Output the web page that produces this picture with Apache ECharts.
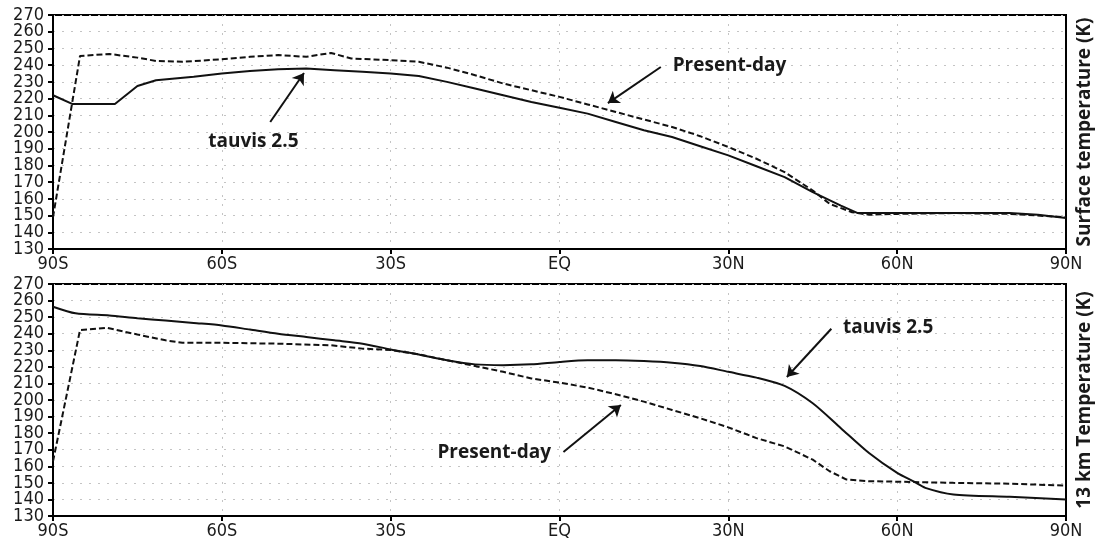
<!DOCTYPE html>
<html>
<head>
<meta charset="utf-8">
<script src="https://cdn.jsdelivr.net/npm/echarts@6/dist/echarts.min.js"></script>
<style>
html,body{margin:0;padding:0;background:#fff;}
#chart{width:1102px;height:545px;}
</style>
</head>
<body>
<div id="chart"></div>
<script>
// ---- data ----
const latTicks = [-90, -60, -30, 0, 30, 60, 90];
const latTickLabels = ['90S', '60S', '30S', 'EQ', '30N', '60N', '90N'];

const surfTauLat = [-90,-86.5,-79,-75,-71.7,-65,-60,-55,-50,-45,-40,-35,-30,-25,-20,-15,-10,-5,0,5,10,15,20,25,30,35,40,45,50,53,60,70,80,85,90];
const surfTauK   = [222,216.7,216.7,227.5,231,233,235,236.5,237.5,238,237,236,235,233.5,230,226,222,218,214.5,211,206,201,197,191.5,186,179.5,173,164,156,151.5,151.5,151.5,151.5,150.5,148.5];

const surfPdLat = [-90,-85.2,-80,-75,-71.7,-67,-60,-55,-50,-45,-40.6,-37,-30,-25,-20,-15,-10,-5,0,5,10,15,20,25,30,35,40,45,48,52,55,60,70,80,90];
const surfPdK   = [149,245.5,246.7,244.5,242.5,242,243.5,245,246,245,247.3,244,243,242,238.5,234,229,225,221,216.5,212,207.5,203,197.5,191,184,176,165,157,152,150.5,151,151.5,151,149];

const hiTauLat = [-90,-86,-80,-75,-70,-65,-60,-55,-50,-45,-40,-35,-30,-25,-20,-15,-10,-5,0,5,10,15,20,25,30,35,40,45,50,55,60,63,65,70,80,90];
const hiTauK   = [256.3,252.3,251,249.3,248,246.5,245,242.5,240,238,236,234,230.5,227.5,224,221.5,221,221.5,223,224,224,223.5,222.5,220.5,217,213.5,208.5,198,183,168,156,150.7,147,143,141.6,140];

const hiPdLat = [-90,-85.2,-80.5,-75,-70,-67,-60,-50,-40.6,-35,-30,-25,-20,-15,-10,-5,0,5,10,15,20,25,30,35,40,45,48,51,55,60,70,80,90];
const hiPdK   = [163,242.2,243.6,239.5,236,234.5,234.5,234,233,231,230.2,227.5,224,220.5,217,213,210.5,207.5,203.5,199,194,189,183.5,177,172,164,157,152,151,150.7,150,149.5,148.3];

const yMin = 130, yMax = 270, yStep = 10;

// ---- helpers ----
function zip(a, b) { return a.map((v, i) => [v, b[i]]); }
const TICKFONT = '"DejaVu Sans Condensed", "DejaVu Sans", sans-serif';
const BOLDFONT = '"Open Sans", "DejaVu Sans", sans-serif';
const gridLine = { show: true, lineStyle: { color: '#c4c4c4', width: 1, type: [2, 7] } };
const tickLabelStyle = { color: '#1a1a1a', fontFamily: TICKFONT, fontSize: 18 };

function xAxisCfg(gi) {
  return {
    type: 'value', gridIndex: gi, min: -90, max: 90, interval: 30,
    axisLine: { show: true, onZero: false, lineStyle: { color: '#000', width: 2 } },
    axisTick: { show: true, length: 5, lineStyle: { color: '#000', width: 2 } },
    axisLabel: Object.assign({}, tickLabelStyle, { margin: 6,
      showMinLabel: true, showMaxLabel: true,
      formatter: v => latTickLabels[latTicks.indexOf(v)] }),
    splitLine: gridLine
  };
}
// main left axis: inner labels (140..260)
function yAxisCfg(gi) {
  return {
    type: 'value', gridIndex: gi, min: yMin, max: yMax, interval: yStep,
    axisLine: { show: true, onZero: false, lineStyle: { color: '#000', width: 2 } },
    axisTick: { show: true, length: 5, lineStyle: { color: '#000', width: 2 } },
    axisLabel: Object.assign({}, tickLabelStyle, { margin: 9, showMinLabel: false, showMaxLabel: false }),
    splitLine: gridLine
  };
}
// companion left axis: end labels (130 and 270)
function yEndCfg(gi) {
  return {
    type: 'value', gridIndex: gi, min: yMin, max: yMax, interval: yMax - yMin, position: 'left',
    axisLine: { show: false, onZero: false },
    axisTick: { show: true, length: 5, lineStyle: { color: '#000', width: 2 } },
    axisLabel: Object.assign({}, tickLabelStyle, { margin: 9, showMinLabel: true, showMaxLabel: true }),
    splitLine: { show: false }
  };
}
function yRightCfg(gi, name) {
  return {
    type: 'value', gridIndex: gi, min: yMin, max: yMax, interval: yStep, position: 'right',
    name: name, nameLocation: 'middle', nameRotate: 90, nameGap: 9,
    nameTextStyle: { color: '#1a1a1a', fontFamily: BOLDFONT, fontSize: 19, fontWeight: 'bold' },
    axisLine: { show: true, onZero: false, lineStyle: { color: '#000', width: 2 } },
    axisTick: { show: false }, axisLabel: { show: false }, splitLine: { show: false }
  };
}
function arrow(from, to) {
  return [{ coord: from, symbol: 'none' }, { coord: to, symbol: 'arrow', symbolSize: 11 }];
}
function label(coord, text) {
  return { coord: coord, value: text, symbolSize: 0,
    label: { show: true, position: 'inside', formatter: text, color: '#1a1a1a',
      fontFamily: BOLDFONT, fontSize: 19, fontWeight: 'bold' } };
}
const mlBase = { silent: true, symbol: ['none', 'arrow'], label: { show: false },
  lineStyle: { color: '#111', width: 2, type: 'solid' }, animation: false };

const solidStyle = { color: '#111', width: 2, type: 'solid' };
const dashStyle = { color: '#111', width: 2, type: [6, 3] };

const option = {
  animation: false,
  backgroundColor: '#fff',
  grid: [
    { left: 53, top: 15, width: 1020, height: 234, show: true, borderColor: '#000', borderWidth: 2, backgroundColor: '#fff' },
    { left: 53, top: 284, width: 1020, height: 232, show: true, borderColor: '#000', borderWidth: 2, backgroundColor: '#fff' }
  ],
  xAxis: [xAxisCfg(0), xAxisCfg(1)],
  yAxis: [yAxisCfg(0), yAxisCfg(1),
          yRightCfg(0, 'Surface temperature (K)'), yRightCfg(1, '13 km Temperature (K)'),
          yEndCfg(0), yEndCfg(1)],
  series: [
    { type: 'line', name: 'tauvis 2.5', xAxisIndex: 0, yAxisIndex: 0, data: zip(surfTauLat, surfTauK),
      showSymbol: false, lineStyle: solidStyle, z: 5,
      markLine: Object.assign({}, mlBase, { data: [arrow([-51.4, 206], [-45.4, 235.3])] }),
      markPoint: { silent: true, symbol: 'circle', data: [label([-54.4, 194], 'tauvis 2.5')] } },
    { type: 'line', name: 'Present-day', xAxisIndex: 0, yAxisIndex: 0, data: zip(surfPdLat, surfPdK),
      showSymbol: false, lineStyle: dashStyle, z: 4,
      markLine: Object.assign({}, mlBase, { data: [arrow([18, 238.9], [8.6, 217.3])] }),
      markPoint: { silent: true, symbol: 'circle', data: [label([30.2, 239.5], 'Present-day')] } },
    { type: 'line', name: 'tauvis 2.5', xAxisIndex: 1, yAxisIndex: 1, data: zip(hiTauLat, hiTauK),
      showSymbol: false, smooth: 0.25, lineStyle: solidStyle, z: 5,
      markLine: Object.assign({}, mlBase, { data: [arrow([48.3, 243], [40.4, 213.9])] }),
      markPoint: { silent: true, symbol: 'circle', data: [label([58.4, 243.4], 'tauvis 2.5')] } },
    { type: 'line', name: 'Present-day', xAxisIndex: 1, yAxisIndex: 1, data: zip(hiPdLat, hiPdK),
      showSymbol: false, lineStyle: dashStyle, z: 4,
      markLine: Object.assign({}, mlBase, { data: [arrow([0.7, 168.6], [10.9, 197])] }),
      markPoint: { silent: true, symbol: 'circle', data: [label([-11.6, 168], 'Present-day')] } }
  ]
};

const chart = echarts.init(document.getElementById('chart'), null, { renderer: 'canvas' });
chart.setOption(option);
</script>
</body>
</html>
